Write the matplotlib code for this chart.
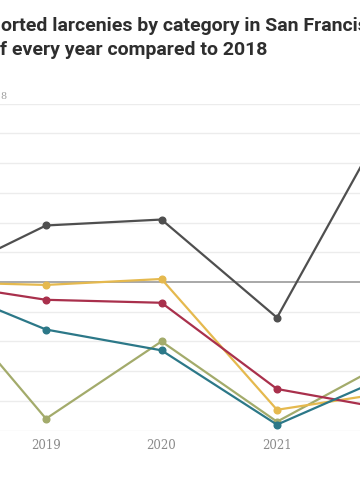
import matplotlib
matplotlib.use("Agg")
import matplotlib.pyplot as plt

W, H = 360, 504

years = [2018, 2019, 2020, 2021, 2022]
black = [0, 19, 21, -12, 58]
yellow = [0, -1, 1, -43, -37]
red = [0, -6, -7, -36, -43]
teal = [0, -16, -23, -48, -31]
green = [0, -46, -20, -47, -26]
shown_years = [2019, 2020, 2021]

series = [
    (black, "#4f4f4f"),
    (green, "#a3ab6b"),
    (yellow, "#e5b94e"),
    (red, "#a9304c"),
    (teal, "#2c7888"),
]

fig = plt.figure(figsize=(W / 100, H / 100), dpi=100)

# axes run wider than the figure so the picture is a crop of the full chart
x0, x1 = -69.5, 392.5
ytop, ybot = 103.6, 430.6
ax = fig.add_axes([x0 / W, 1 - ybot / H, (x1 - x0) / W, (ybot - ytop) / H])
ax.set_xlim(2018, 2022)
ax.set_ylim(-50, 60)

for v in range(-50, 61, 10):
    if v == 0:
        ax.axhline(0, color="#9a9a9a", lw=1.2, zorder=1)
    else:
        ax.axhline(v, color="#ececec", lw=1.0, zorder=0)

for vals, c in series:
    ax.plot(years, vals, color=c, lw=1.6, marker="o", ms=4.8,
            markevery=[1, 2, 3], zorder=3, clip_on=False)

for s in ax.spines.values():
    s.set_visible(False)
ax.set_yticks([])
ax.set_xticks(shown_years)
ax.set_xticklabels([str(y) for y in shown_years], family="DejaVu Serif",
                   fontsize=8.5, color="#8a8a8a")
ax.tick_params(axis="x", length=0, pad=6)

fig.text(1 / W, 1 - 31 / H, "orted larcenies by category in San Francisco",
         fontsize=14, fontweight="bold", family="Roboto", color="#2e2e2e",
         ha="left", va="baseline")
fig.text(0 / W, 1 - 55 / H, "f every year compared to 2018",
         fontsize=14, fontweight="bold", family="Roboto", color="#2e2e2e",
         ha="left", va="baseline")
fig.text(0.5 / W, 1 - 99 / H, "8", fontsize=7, color="#a0a0a0",
         family="DejaVu Serif", ha="left", va="baseline")

fig.savefig("out.png", dpi=100)
